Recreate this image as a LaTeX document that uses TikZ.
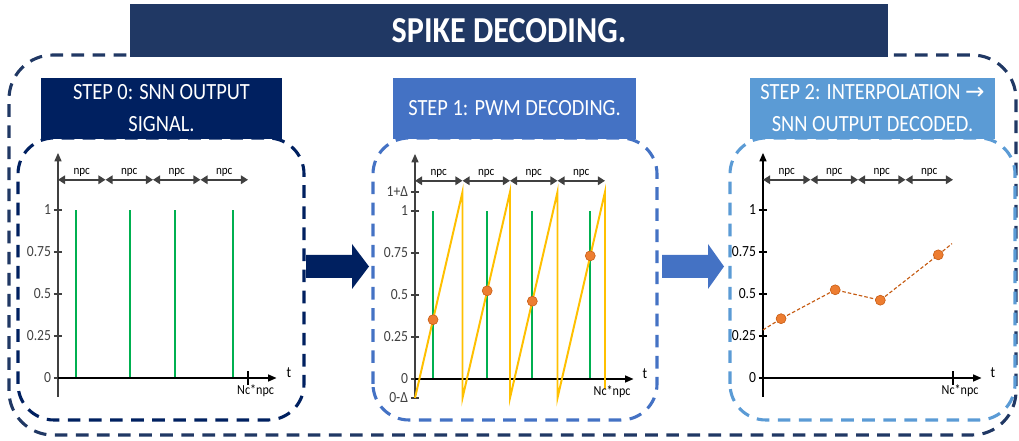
\documentclass[tikz,border=0pt]{standalone}
\usepackage{fontspec}
\setmainfont{Carlito}[FakeStretch=0.88]
\newfontfamily\arrowfont{DejaVu Sans}
\usetikzlibrary{arrows.meta}

\definecolor{navy}{HTML}{203864}
\definecolor{stepzero}{HTML}{002060}
\definecolor{stepone}{HTML}{4472C4}
\definecolor{steptwo}{HTML}{5B9BD5}
\definecolor{spikegreen}{HTML}{00B050}
\definecolor{rampyellow}{HTML}{FFC000}
\definecolor{dotorange}{HTML}{ED7D31}
\definecolor{dotedge}{HTML}{C55A11}
\definecolor{axisgray}{HTML}{404040}

\tikzset{
  headbox/.style={text=white, align=center, inner sep=0pt,
    font=\fontsize{16.5}{22.8}\selectfont},
  panelbox/.style={line width=2.2pt, dash pattern=on 9pt off 6pt, rounded corners=0.9cm},
  axisline/.style={axisgray, line width=0.9pt},
  ticklabel/.style={left, inner sep=1.5pt, font=\fontsize{11}{12}\selectfont},
  npcarrow/.style={axisgray, line width=1.3pt,
    {Triangle[length=5pt,width=6pt]}-{Triangle[length=5pt,width=6pt]}},
  npclabel/.style={above, inner sep=1pt, font=\fontsize{9}{10}\selectfont},
  endlabel/.style={below, inner sep=1pt, font=\fontsize{9.8}{11}\selectfont},
  spike/.style={spikegreen, line width=1.4pt},
  dot/.style={circle, fill=dotorange, draw=dotedge, line width=0.4pt,
    inner sep=0pt, minimum size=0.25cm}
}

\begin{document}
\begin{tikzpicture}
  \useasboundingbox (0,0) rectangle (25.475,11.025);
  % OUTER FRAME + TITLE
  \draw[navy, panelbox, rounded corners=1.1cm] (0.225,0.15) rectangle (25.4,9.65);
  \node[headbox, fill=navy, minimum width=18.95cm, minimum height=1.325cm,
    font=\bfseries\fontsize{26}{30}\selectfont] (title) at (12.725,10.2625) {SPIKE DECODING.};

  % LEFT : STEP 0
  \draw[stepzero, panelbox] (0.45,0.525) rectangle (7.6,7.575);
  \node[headbox, fill=stepzero, minimum width=6.025cm, minimum height=1.525cm]
    (head0) at (4.0375,8.3125) {STEP 0: SNN OUTPUT\\SIGNAL.};
  \begin{scope}[shift={(1.45,1.575)}, x=1.1875cm, y=4.2cm]
    \draw[axisline, -{Triangle[length=6pt,width=5pt]}] (0,-0.113) -- (0,1.34);
    \foreach \v [count=\i] in {0,0.25,0.5,0.75,1}
      \draw[axisline] (0,\v) ++(-3pt,0) -- ++(6pt,0) node[pos=0, ticklabel] (a\i) {\v};
    \foreach \k in {0,...,3} {
      \draw[npcarrow] (\k,1.18) -- (\k+1,1.18);
      \node[npclabel] (anpc\k) at (\k+0.5,1.19) {npc};
    }
    \draw[spike] (0,0) -- (3.69,0);
    \foreach \s in {0.38,1.52,2.47,3.69}
      \draw[spike] (\s,0) -- (\s,1);
    \draw[black, line width=0.9pt, -{Triangle[length=6pt,width=5pt]}] (0,0) -- (4.6,0);
    \draw[black, line width=0.9pt] (4,-0.04) -- (4,0.04);
    \node[endlabel] (anc) at (4.16,-0.03) {Nc*npc};
    \node[font=\fontsize{11}{12}\selectfont] (at) at (4.86,0.03) {t};
  \end{scope}

  % ARROW 0 -> 1
  \fill[stepzero] (7.65,4.075) -- (8.8,4.075) -- (8.8,3.8) -- (9.225,4.3625)
    -- (8.8,4.925) -- (8.8,4.65) -- (7.65,4.65) -- cycle;

  % MIDDLE : STEP 1
  \draw[stepone, panelbox] (9.325,0.525) rectangle (16.425,7.575);
  \node[headbox, fill=stepone, minimum width=6.075cm, minimum height=1.525cm]
    (head1) at (12.8625,8.3125) {STEP 1: PWM DECODING.};
  \begin{scope}[shift={(10.375,1.55)}, x=1.1875cm, y=4.2cm]
    \draw[axisline, -{Triangle[length=6pt,width=5pt]}] (0,-0.113) -- (0,1.34);
    \foreach \v [count=\i] in {0,0.25,0.5,0.75,1}
      \draw[axisline] (0,\v) ++(-3pt,0) -- ++(6pt,0) node[pos=0, ticklabel] (b\i) {\v};
    \draw[axisline] (0,1.113) ++(-3pt,0) -- ++(6pt,0) node[pos=0, ticklabel] (btop) {1+Δ};
    \draw[axisline] (0,-0.113) ++(-3pt,0) -- ++(6pt,0) node[pos=0, ticklabel] (bbot) {0-Δ};
    \foreach \k in {0,...,3} {
      \draw[npcarrow] (\k,1.18) -- (\k+1,1.18);
      \node[npclabel] (bnpc\k) at (\k+0.5,1.19) {npc};
    }
    \draw[spike] (0,0) -- (4,0);
    \foreach \s in {0.38,1.52,2.47,3.69}
      \draw[spike] (\s,0) -- (\s,1);
    \draw[black, line width=0.9pt, -{Triangle[length=6pt,width=5pt]}] (0,0) -- (4.6,0);
    % sawtooth
    \draw[rampyellow, line width=1.4pt, line join=miter]
      (0,-0.113) -- (1,1.113) -- (1,-0.113) -- (2,1.113) -- (2,-0.113)
      -- (3,1.113) -- (3,-0.113) -- (4,1.113) -- (4,-0.06);
    \foreach \s/\v [count=\i] in {0.38/0.353,1.52/0.525,2.47/0.463,3.69/0.733}
      \node[dot] (bd\i) at (\s,\v) {};
    \node[endlabel] (bnc) at (4.15,-0.03) {Nc*npc};
    \node[font=\fontsize{11}{12}\selectfont] (bt) at (4.84,0.03) {t};
  \end{scope}

  % ARROW 1 -> 2
  \fill[stepone] (16.55,4.075) -- (17.7,4.075) -- (17.7,3.8) -- (18.1,4.3625)
    -- (17.7,4.925) -- (17.7,4.65) -- (16.55,4.65) -- cycle;

  % RIGHT : STEP 2
  \draw[steptwo, panelbox] (18.25,0.525) rectangle (25.375,7.575);
  \node[headbox, fill=steptwo, minimum width=6.125cm, minimum height=1.525cm]
    (head2) at (21.8125,8.3125) {STEP 2: INTERPOLATION {\arrowfont →}\\SNN OUTPUT DECODED.};
  \begin{scope}[shift={(19.075,1.575)}, x=1.1875cm, y=4.2cm]
    \draw[black, line width=0.9pt, -{Triangle[length=6pt,width=5pt]}] (0,-0.113) -- (0,1.34);
    \foreach \v [count=\i] in {0,0.25,0.5,0.75,1}
      \draw[black, line width=0.9pt] (0,\v) ++(-3pt,0) -- ++(6pt,0) node[pos=0, ticklabel] (c\i) {\v};
    \foreach \k in {0,...,3} {
      \draw[npcarrow] (\k,1.18) -- (\k+1,1.18);
      \node[npclabel] (cnpc\k) at (\k+0.5,1.19) {npc};
    }
    \draw[black, line width=0.9pt, -{Triangle[length=6pt,width=5pt]}] (0,0) -- (4.6,0);
    \draw[black, line width=0.9pt] (4,-0.04) -- (4,0.04);
    \coordinate (cs) at (0,0.286);
    \coordinate (ce) at (3.98,0.80);
    \foreach \s/\v [count=\i] in {0.38/0.353,1.52/0.525,2.47/0.463,3.69/0.733}
      \coordinate (cp\i) at (\s,\v);
    \draw[dotedge, line width=0.8pt, dash pattern=on 2.5pt off 1.5pt]
      (cs) -- (cp1) -- (cp2) -- (cp3) -- (cp4) -- (ce);
    \foreach \i in {1,...,4}
      \node[dot] (cd\i) at (cp\i) {};
    \node[endlabel] (cnc) at (4.15,-0.03) {Nc*npc};
    \node[font=\fontsize{11}{12}\selectfont] (ct) at (4.84,0.03) {t};
  \end{scope}
\end{tikzpicture}
\end{document}
